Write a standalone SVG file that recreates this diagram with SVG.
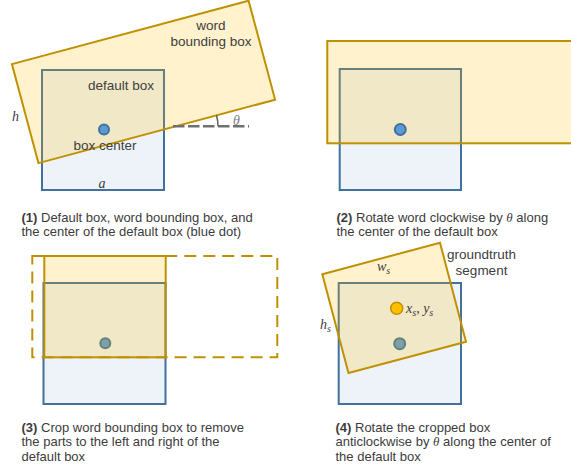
<svg xmlns="http://www.w3.org/2000/svg" width="571" height="470" viewBox="0 0 571 470">
  <style>
    .dbox { fill: #eef3fa; stroke: #41719c; stroke-width: 2; }
    .word { fill: #ffc000; fill-opacity: 0.2; stroke: #bf9000; stroke-width: 2; }
    .dashbox { fill: none; stroke: #bf9000; stroke-width: 2; stroke-dasharray: 12 7; }
    .dot { fill: #5b9bd5; stroke: #41719c; stroke-width: 2; }
    .ydot { fill: #ffc000; stroke: #bf9000; stroke-width: 1.5; }
    .lbl { font-family: "Liberation Sans", Arial, sans-serif; font-size: 13.5px; fill: #404040; }
    .cap { font-family: "Liberation Sans", Arial, sans-serif; font-size: 13px; fill: #3c3c3c; }
    .cap .b { font-weight: bold; }
    .math { font-family: "Liberation Serif", "Times New Roman", serif; font-style: italic; font-size: 14px; fill: #404040; }
    .sub { font-size: 10px; }
  </style>

  <!-- Panel 1: default box and tilted word box -->
  <g id="panel1">
    <g id="p1-default-box">
      <rect class="dbox" x="42" y="70" width="122" height="120"/>
    </g>
    <g id="p1-word-box">
      <rect class="word" x="-72" y="-87" width="245" height="102.5" transform="translate(104 129.5) rotate(-15)"/>
    </g>
    <g id="p1-center">
      <circle class="dot" cx="104" cy="129.5" r="5"/>
    </g>
    <g id="p1-angle">
      <line x1="173" y1="126.3" x2="249" y2="126.3" stroke="#707070" stroke-width="2.5" stroke-dasharray="11.5 3.5"/>
      <path d="M216.5 115.2 A43 43 0 0 1 218 126.3" fill="none" stroke="#606060" stroke-width="1.5"/>
      <text class="math" x="233" y="124.5" fill="#808080" style="fill:#808080">θ</text>
    </g>
    <text class="lbl" x="211" y="30" text-anchor="middle">word</text>
    <text class="lbl" x="211" y="46" text-anchor="middle">bounding box</text>
    <text class="lbl" x="121" y="90" text-anchor="middle">default box</text>
    <text class="lbl" x="105" y="150" text-anchor="middle">box center</text>
    <text class="math" x="12" y="121">h</text>
    <text class="math" x="98.5" y="188">a</text>
  </g>
  <text class="cap" x="21.5" y="221.5"><tspan class="b">(1)</tspan> Default box, word bounding box, and</text>
  <text class="cap" x="21.5" y="235.5">the center of the default box (blue dot)</text>

  <!-- Panel 2: word box rotated to horizontal -->
  <g id="panel2">
    <g id="p2-default-box">
      <rect class="dbox" x="339.7" y="69" width="121.3" height="121"/>
    </g>
    <g id="p2-word-box">
      <rect class="word" x="327.3" y="41" width="245" height="102.3"/>
    </g>
    <g id="p2-center">
      <circle class="dot" cx="400.3" cy="129.5" r="5.5"/>
    </g>
  </g>
  <text class="cap" x="336.5" y="221.5"><tspan class="b">(2)</tspan> Rotate word clockwise by <tspan font-family="Liberation Serif, serif" font-style="italic">θ</tspan> along</text>
  <text class="cap" x="336.5" y="235.5">the center of the default box</text>

  <!-- Panel 3: cropping to the default box width -->
  <g id="panel3">
    <g id="p3-default-box">
      <rect class="dbox" x="43.5" y="283" width="122" height="121"/>
    </g>
    <g id="p3-center">
      <circle class="dot" cx="105.3" cy="343.3" r="5"/>
    </g>
    <g id="p3-full-box">
      <rect class="dashbox" x="32.3" y="256" width="245" height="101.3"/>
    </g>
    <g id="p3-crop-box">
      <rect class="word" x="44.3" y="256" width="121.4" height="101.3"/>
    </g>
  </g>
  <text class="cap" x="21.5" y="431.5"><tspan class="b">(3)</tspan> Crop word bounding box to remove</text>
  <text class="cap" x="21.5" y="446">the parts to the left and right of the</text>
  <text class="cap" x="21.5" y="460.5">default box</text>

  <!-- Panel 4: cropped box rotated back -->
  <g id="panel4">
    <g id="p4-default-box">
      <rect class="dbox" x="338.7" y="283" width="122.3" height="121"/>
    </g>
    <g id="p4-center">
      <circle class="dot" cx="399.7" cy="343.7" r="5.5"/>
    </g>
    <g id="p4-segment">
      <polygon class="word" points="322.3,274.3 440,242.7 466,341.7 348.5,373"/>
    </g>
    <g id="p4-segment-center">
      <circle class="ydot" cx="396.7" cy="308.3" r="6"/>
    </g>
    <text class="math" x="377" y="271">w<tspan class="sub" dy="3">s</tspan></text>
    <text class="math" x="406" y="313">x<tspan class="sub" dy="3">s</tspan><tspan dy="-3">, y</tspan><tspan class="sub" dy="3">s</tspan></text>
    <text class="math" x="320" y="328.5">h<tspan class="sub" dy="3">s</tspan></text>
    <text class="lbl" x="481.5" y="259" text-anchor="middle">groundtruth</text>
    <text class="lbl" x="481.5" y="274.5" text-anchor="middle">segment</text>
  </g>
  <text class="cap" x="335.5" y="431.5"><tspan class="b">(4)</tspan> Rotate the cropped box</text>
  <text class="cap" x="335.5" y="446">anticlockwise by <tspan font-family="Liberation Serif, serif" font-style="italic">θ</tspan> along the center of</text>
  <text class="cap" x="335.5" y="460.5">the default box</text>
</svg>
